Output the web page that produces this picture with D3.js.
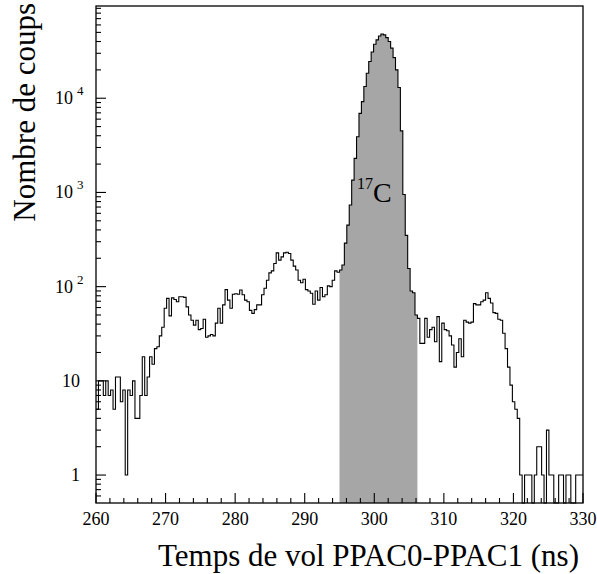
<!DOCTYPE html>
<html><head><meta charset="utf-8">
<script src="https://cdn.jsdelivr.net/npm/d3@7"></script>
<style>
body{margin:0;background:#fff}
text{font-family:"Liberation Serif","Times New Roman",serif;fill:#000}
</style>
</head><body><svg id="chart" width="597" height="574"></svg>
<script>
// ---- data ----
const xStart = 260, xEnd = 330, binWidth = 0.35;   // 200 bins
const counts = [
  5, 10, 10, 7, 10, 7, 8, 5, 11, 11,
  6, 8, 1, 8, 7, 10, 4, 4, 7, 18,
  7, 11, 18, 15, 22, 23, 30, 37, 59, 75,
  49, 76, 73, 69, 78, 78, 77, 61, 50, 44,
  39, 44, 35, 36, 45, 29, 30, 31, 30, 41,
  59, 41, 64, 93, 72, 59, 83, 84, 83, 92,
  82, 72, 69, 56, 52, 57, 64, 64, 82, 96,
  117, 140, 147, 176, 228, 191, 207, 228, 232, 225,
  191, 165, 150, 117, 110, 120, 93, 90, 85, 65,
  90, 72, 98, 78, 82, 102, 100, 117, 147, 142,
  150, 170, 290, 450, 735, 1350, 2300, 3900, 6900, 9200,
  13300, 18400, 24500, 31000, 37400, 41600, 45800, 48000, 47000, 44000,
  40000, 34000, 27000, 20000, 13000, 4500, 950, 350, 156, 90,
  86, 50, 46, 25, 25, 46, 29, 35, 37, 26,
  48, 16, 41, 35, 34, 30, 24, 14, 20, 28,
  18, 44, 42, 41, 42, 66, 64, 64, 69, 72,
  86, 75, 67, 53, 52, 45, 44, 32, 22, 14,
  9, 6, 5, 4, 1, 0, 1, 1, 1, 0,
  1, 2, 2, 1, 0, 3, 1, 1, 0, 0,
  1, 1, 0, 1, 1, 0, 0, 1, 1, 1
];
const shadedRange = [295, 306.2];
const xMajorTicks = [260, 270, 280, 290, 300, 310, 320, 330];
const xMinorStep = 2;
const yDecades = [0, 1, 2, 3, 4];
const yMin = 0.505, yMax = 95300;
const xTitle = "Temps de vol PPAC0-PPAC1 (ns)";
const yTitle = "Nombre de coups";
const peakLabel = {sup: "17", main: "C"};

// ---- layout ----
const L = 96, R = 583, T = 6, B = 503;
const svg = d3.select("#chart");
const x = d3.scaleLinear().domain([xStart, xEnd]).range([L, R]);
const y = d3.scaleLog().domain([yMin, yMax]).range([B, T]);
const yv = c => c > 0 ? y(c) : B;

const bins = counts.map((c, i) => ({x0: xStart + i * binWidth, x1: xStart + (i + 1) * binWidth, c}));

// shaded area
const shaded = bins.filter(b => b.x0 >= shadedRange[0] - 1e-6 && b.x1 <= shadedRange[1] + 1e-6);
let ds = `M${x(shaded[0].x0)},${B}`;
shaded.forEach(b => { ds += `L${x(b.x0)},${yv(b.c)}L${x(b.x1)},${yv(b.c)}`; });
ds += `L${x(shaded[shaded.length - 1].x1)},${B}Z`;
svg.append("path").attr("d", ds).attr("fill", "#a6a6a6").attr("stroke", "none");

// histogram outline
let d = `M${x(bins[0].x0)},${yv(bins[0].c)}`;
bins.forEach(b => { d += `L${x(b.x0)},${yv(b.c)}L${x(b.x1)},${yv(b.c)}`; });
svg.append("path").attr("d", d).attr("fill", "none").attr("stroke", "#000").attr("stroke-width", 1.1);

// frame
svg.append("rect").attr("x", L).attr("y", T).attr("width", R - L).attr("height", B - T)
  .attr("fill", "none").attr("stroke", "#000").attr("stroke-width", 1.3);

// x ticks
const g = svg.append("g").attr("stroke", "#000").attr("stroke-width", 1.1);
d3.range(xStart, xEnd + 0.001, xMinorStep).forEach(v => {
  const major = xMajorTicks.includes(v);
  g.append("line").attr("x1", x(v)).attr("x2", x(v)).attr("y1", B).attr("y2", B - (major ? 10 : 5));
});
xMajorTicks.forEach(v => {
  svg.append("text").attr("x", x(v)).attr("y", 525).attr("text-anchor", "middle")
    .attr("font-size", 18).text(v);
});

// y ticks
const yTicks = [];
[-1, ...yDecades].forEach(dd => {
  for (let m = 1; m <= 9; m++) {
    const v = m * Math.pow(10, dd);
    if (v >= yMin && v <= yMax) yTicks.push({v, major: m === 1});
  }
});
yTicks.forEach(t => {
  g.append("line").attr("x1", L).attr("x2", L + (t.major ? 10 : 5)).attr("y1", y(t.v)).attr("y2", y(t.v));
});
yDecades.forEach(dd => {
  const v = Math.pow(10, dd);
  const t = svg.append("text").attr("y", y(v) + 6).attr("font-size", 18);
  if (dd < 2) {
    t.attr("x", 80).attr("text-anchor", "end").text(dd === 0 ? "1" : "10");
  } else {
    t.attr("x", 55).attr("text-anchor", "start");
    t.append("tspan").text("10");
    t.append("tspan").attr("dx", 4).attr("dy", -9).attr("font-size", 13).text(dd);
  }
});

// titles
svg.append("text").attr("x", 579).attr("y", 566).attr("text-anchor", "end").attr("font-size", 31).text(xTitle);
svg.append("text").attr("transform", "translate(35,3) rotate(-90)").attr("text-anchor", "end")
  .attr("font-size", 31).text(yTitle);

// peak label
const pl = svg.append("text").attr("x", 357).attr("y", 202).attr("font-size", 28);
pl.append("tspan").attr("font-size", 16).attr("dy", -13).text(peakLabel.sup);
pl.append("tspan").attr("dy", 13).text(peakLabel.main);
</script></body></html>
